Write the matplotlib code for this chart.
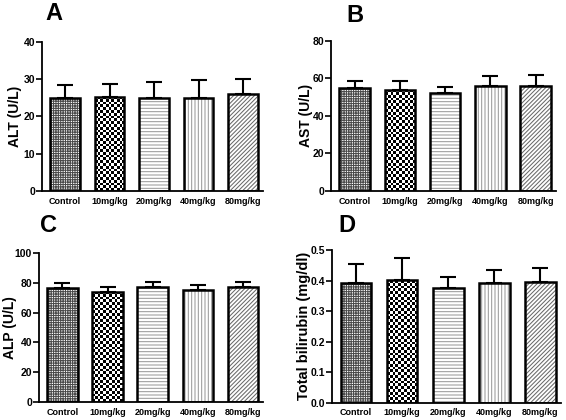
import matplotlib
matplotlib.use("Agg")
import matplotlib.pyplot as plt
import numpy as np

plt.rcParams['font.family'] = ['Liberation Sans', 'DejaVu Sans']
plt.rcParams['font.weight'] = 'bold'
plt.rcParams['hatch.linewidth'] = 0.75

groups = ["Control", "10mg/kg", "20mg/kg", "40mg/kg", "80mg/kg"]

alt_mean = [25.1, 25.3, 25.1, 25.0, 26.0]
alt_err = [3.4, 3.3, 4.1, 4.9, 4.0]

ast_mean = [54.8, 53.8, 52.0, 55.9, 56.0]
ast_err = [3.7, 4.7, 3.2, 5.3, 6.0]

alp_mean = [76.6, 74.0, 77.3, 75.1, 76.8]
alp_err = [3.1, 3.3, 3.0, 3.6, 3.3]

tb_mean = [0.393, 0.402, 0.377, 0.392, 0.396]
tb_err = [0.061, 0.073, 0.033, 0.041, 0.044]

# texture per group: (kind, hatch or cell size, colour)
textures = [('hatch', '+++++++', '#4a4a4a'),
            ('checker', 2.8, '#000000'),
            ('hatch', '-----', '#9a9a9a'),
            ('hatch', '|||||', '#9a9a9a'),
            ('hatch', '////////', '#6a6a6a')]

W, H = 566, 420
fig = plt.figure(figsize=(W / 100, H / 100), dpi=100)

panels = [
    ("A", "ALT (U/L)", alt_mean, alt_err, (0, 40), [0, 10, 20, 30, 40], None, (42, 263, 42, 191), (45, 20), 22),
    ("B", "AST (U/L)", ast_mean, ast_err, (0, 80), [0, 20, 40, 60, 80], None, (331, 556, 40.7, 191), (346, 22), 313),
    ("C", "ALP (U/L)", alp_mean, alp_err, (0, 100), [0, 20, 40, 60, 80, 100], None, (39, 263, 252.7, 402.3), (40, 232), 17),
    ("D", "Total bilirubin (mg/dl)", tb_mean, tb_err, (0, 0.5), [0.0, 0.1, 0.2, 0.3, 0.4, 0.5], "%.1f", (332, 561, 250, 402.7), (338, 232), 311),
]

for letter, ylabel, means, errs, ylim, yticks, fmt, box, lpos, labx in panels:
    l, r, t, b = box
    ax = fig.add_axes([l / W, 1 - b / H, (r - l) / W, (b - t) / H])
    x = list(range(len(groups)))
    ax.set_xlim(-0.52, 4.45)
    ax.set_ylim(*ylim)
    bars = ax.bar(x, means, width=0.67, color='white', edgecolor='none', linewidth=0, zorder=2)
    for bar, (kind, spec, col) in zip(bars, textures):
        if kind == 'hatch':
            bar.set_hatch(spec)
            bar._hatch_color = matplotlib.colors.to_rgba(col)
        else:
            bb = bar.get_bbox()
            p0 = ax.transData.transform((bb.x0, bb.y0))
            p1 = ax.transData.transform((bb.x1, bb.y1))
            nx = max(1, int(round((p1[0] - p0[0]) / spec)))
            ny = max(1, int(round((p1[1] - p0[1]) / spec)))
            ii, jj = np.indices((ny, nx))
            arr = ((ii + jj) % 2).astype(float)
            im = ax.imshow(arr, extent=[bb.x0, bb.x1, bb.y0, bb.y1], cmap='gray',
                           vmin=0, vmax=1, interpolation='nearest', aspect='auto',
                           origin='lower', zorder=2.5)
            im.set_clip_path(bar)
    ax.bar(x, means, width=0.67, facecolor='none', edgecolor='black', linewidth=1.8, zorder=3)
    ax.errorbar(x, means, yerr=[[0] * len(errs), errs], fmt='none', ecolor='black',
                elinewidth=1.5, capsize=5.5, capthick=1.5, zorder=1)
    ax.set_xlim(-0.52, 4.45)
    ax.set_ylim(*ylim)
    ax.set_yticks(yticks)
    if fmt:
        ax.set_yticklabels([fmt % v for v in yticks])
    ax.set_xticks(x)
    ax.set_xticklabels(groups, fontsize=6.5, fontweight='bold')
    ax.tick_params(axis='x', length=0, pad=4)
    ax.tick_params(axis='y', length=4, width=1.2, labelsize=7.5, pad=1)
    for lab in ax.get_yticklabels():
        lab.set_fontweight('bold')
    ax.spines['top'].set_visible(False)
    ax.spines['right'].set_visible(False)
    ax.spines['left'].set_linewidth(1.3)
    ax.spines['bottom'].set_linewidth(1.3)
    ax.set_ylabel(ylabel, fontsize=10.5 if letter == "D" else 10, fontweight='bold')
    ax.yaxis.set_label_coords((labx - l) / (r - l), 0.5)
    fig.text(lpos[0] / W, 1 - lpos[1] / H, letter, fontsize=17, fontweight='bold', ha='left', va='baseline')

fig.savefig("out.png", dpi=100)
